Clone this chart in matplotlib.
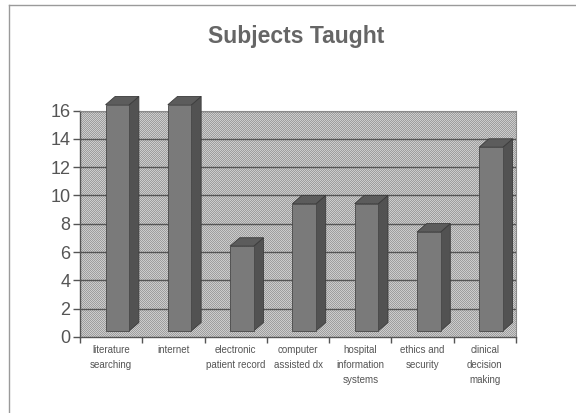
import matplotlib
matplotlib.use("Agg")
import numpy as np
import matplotlib.pyplot as plt
from matplotlib.patches import Polygon, Rectangle
from matplotlib.lines import Line2D

categories = ["literature\nsearching", "internet", "electronic\npatient record",
              "computer\nassisted dx", "hospital\ninformation\nsystems",
              "ethics and\nsecurity", "clinical\ndecision\nmaking"]
values = [16, 16, 6, 9, 9, 7, 13]
yticks = [0, 2, 4, 6, 8, 10, 12, 14, 16]

plt.rcParams['font.family'] = ['Liberation Sans', 'DejaVu Sans']

fig = plt.figure(figsize=(5.76, 4.13), dpi=100)
fig.patch.set_facecolor('white')

W, H = 576, 413
left, right, top, bottom = 80, 516, 110.7, 336.8
ax = fig.add_axes([left / W, (H - bottom) / H, (right - left) / W, (bottom - top) / H])
ax.set_xlim(0, len(categories))
ax.set_ylim(0, 16)
ax.set_facecolor('#b4b4b4')

# back wall stipple texture (pixel checkerboard)
nx, ny = int(right - left), int(bottom - top)
yy, xx = np.mgrid[0:ny, 0:nx]
tex = np.where((xx + yy) % 2 == 0, 0.80, 0.62)
ax.imshow(tex, cmap='gray', vmin=0, vmax=1, extent=(0, len(categories), 0, 16),
          aspect='auto', interpolation='nearest', zorder=0.5)
ax.set_xlim(0, len(categories))
ax.set_ylim(0, 16)

for y in yticks[1:]:
    ax.axhline(y, color='#555555', lw=1.0, zorder=1)

dx, dy, y0 = 0.155, 0.59, 0.42
fx0, fw = 0.41, 0.38
for i, v in enumerate(values):
    x0 = i + fx0
    x1 = x0 + fw
    side = Polygon([(x1, y0), (x1 + dx, y0 + dy), (x1 + dx, y0 + v + dy), (x1, y0 + v)],
                   closed=True, facecolor='#525252', edgecolor='#3c3c3c', lw=0.6,
                   zorder=3, clip_on=False)
    topf = Polygon([(x0, y0 + v), (x1, y0 + v), (x1 + dx, y0 + v + dy), (x0 + dx, y0 + v + dy)],
                   closed=True, facecolor='#5c5c5c', edgecolor='#3c3c3c', lw=0.6,
                   zorder=3, clip_on=False)
    front = Rectangle((x0, y0), fw, v, facecolor='#7a7a7a', edgecolor='#484848',
                      lw=0.6, zorder=4, clip_on=False)
    ax.add_patch(side)
    ax.add_patch(topf)
    ax.add_patch(front)

for s in ['top', 'right']:
    ax.spines[s].set_color('#8a8a8a')
    ax.spines[s].set_linewidth(0.8)
for s in ['left', 'bottom']:
    ax.spines[s].set_color('#555555')
    ax.spines[s].set_linewidth(1.0)

ax.set_yticks(yticks)
ax.set_yticklabels([str(t) for t in yticks], fontsize=13, color='#555555')
ax.tick_params(axis='y', length=5, width=1, color='#555555', pad=2)

ax.set_xticks(range(len(categories) + 1))
ax.set_xticklabels([])
ax.tick_params(axis='x', length=4, width=1, color='#555555')
for i, c in enumerate(categories):
    ax.text(i + 0.5, -0.55, c, ha='center', va='top', fontsize=7, color='#555555',
            linespacing=1.65, transform=ax.transData)

fig.text(296 / W, 1 - 37 / H, 'Subjects Taught', ha='center', va='center',
         fontsize=16.5, fontweight='bold', color='#666666')

# outer frame
fig.add_artist(Line2D([9 / W, 1], [1 - 5 / H, 1 - 5 / H], transform=fig.transFigure,
                      color='#9a9a9a', lw=1))
fig.add_artist(Line2D([9 / W, 9 / W], [0, 1 - 5 / H], transform=fig.transFigure,
                      color='#9a9a9a', lw=1))

fig.savefig('out.png', dpi=100)
